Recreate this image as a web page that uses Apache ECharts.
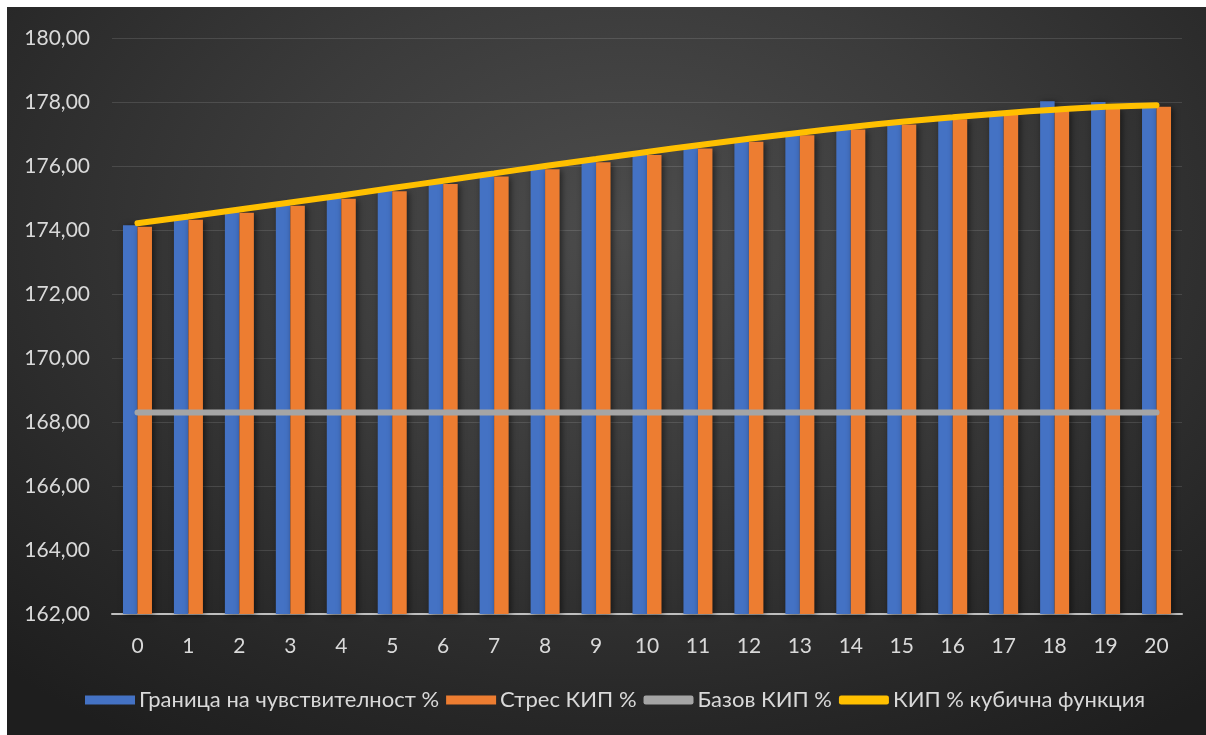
<!DOCTYPE html>
<html>
<head>
<meta charset="utf-8">
<script src="https://cdn.jsdelivr.net/npm/echarts@6/dist/echarts.min.js"></script>
<style>
  html, body { margin: 0; padding: 0; background: #ffffff; }
  #bg { position: absolute; left: 7px; top: 7px; width: 1199px; height: 728px;
        background: radial-gradient(ellipse 75% 85% at 52% 30%, #4c4c4c 0%, #3b3b3b 40%, #272727 80%, #1e1e1e 100%); }
  #chart { position: absolute; left: 0; top: 0; width: 1206px; height: 735px; }
</style>
</head>
<body>
<div id="bg"></div>
<div id="chart"></div>
<script>
const categories = ['0','1','2','3','4','5','6','7','8','9','10','11','12','13','14','15','16','17','18','19','20'];
const sensitivityBound = [174.15, 174.35, 174.57, 174.80, 175.02, 175.25, 175.48, 175.71, 175.94, 176.17, 176.39, 176.60, 176.80, 177.00, 177.18, 177.34, 177.50, 177.63, 178.02, 178.00, 177.88];
const stressKip = [174.10, 174.32, 174.54, 174.76, 174.98, 175.21, 175.44, 175.67, 175.90, 176.12, 176.34, 176.55, 176.76, 176.96, 177.14, 177.30, 177.46, 177.60, 177.72, 177.80, 177.85];
const baseKip = [168.30, 168.30, 168.30, 168.30, 168.30, 168.30, 168.30, 168.30, 168.30, 168.30, 168.30, 168.30, 168.30, 168.30, 168.30, 168.30, 168.30, 168.30, 168.30, 168.30, 168.30];
const cubicKip = [174.21, 174.42, 174.64, 174.86, 175.08, 175.31, 175.54, 175.77, 176.00, 176.22, 176.44, 176.65, 176.85, 177.04, 177.22, 177.38, 177.52, 177.65, 177.76, 177.85, 177.90];
const seriesNames = ['Граница на чувствителност %', 'Стрес КИП %', 'Базов КИП %', 'КИП % кубична функция'];
const yMin = 162, yMax = 180, yStep = 2;

const FONT = 'Lato';
const chart = echarts.init(document.getElementById('chart'), null, { renderer: 'canvas' });
const barShadow = { shadowColor: 'rgba(0,0,0,0.55)', shadowBlur: 6, shadowOffsetX: 2, shadowOffsetY: 1 };
chart.setOption({
  backgroundColor: 'transparent',
  animation: false,
  grid: { left: 112, right: 24, top: 38, bottom: 121 },
  legend: {
    top: 684,
    left: 80,
    itemWidth: 50,
    itemHeight: 9,
    itemGap: 7,
    textStyle: { color: '#d9d9d9', fontSize: 22, fontFamily: FONT, padding: [0, 0, 0, -1] },
    data: [
      { name: seriesNames[0], icon: 'rect' },
      { name: seriesNames[1], icon: 'rect' },
      { name: seriesNames[2], icon: 'roundRect', itemStyle: { color: '#a5a5a5' } },
      { name: seriesNames[3], icon: 'roundRect', itemStyle: { color: '#ffc000' } }
    ]
  },
  xAxis: {
    type: 'category',
    data: categories,
    axisLine: { lineStyle: { color: '#bfbfbf', width: 2 } },
    axisTick: { show: false },
    axisLabel: { color: '#d9d9d9', fontSize: 21, fontFamily: FONT, margin: 22 },
    splitLine: { show: false }
  },
  yAxis: {
    type: 'value',
    min: yMin, max: yMax, interval: yStep,
    axisLine: { show: false },
    axisTick: { show: false },
    axisLabel: {
      color: '#d9d9d9', fontSize: 21, fontFamily: FONT, margin: 22,
      formatter: v => v.toFixed(2).replace('.', ',')
    },
    splitLine: { lineStyle: { color: 'rgba(255,255,255,0.12)', width: 1 } }
  },
  series: [
    { name: seriesNames[0], type: 'bar', data: sensitivityBound, barWidth: 14.5, barGap: '0%',
      itemStyle: Object.assign({ color: '#4472c4' }, barShadow), z: 2 },
    { name: seriesNames[1], type: 'bar', data: stressKip, barWidth: 14.5, barGap: '0%',
      itemStyle: Object.assign({ color: '#ed7d31' }, barShadow), z: 2 },
    { name: seriesNames[2], type: 'line', data: baseKip, showSymbol: false, symbol: 'none',
      lineStyle: { color: '#a5a5a5', width: 6, cap: 'round' }, itemStyle: { color: '#a5a5a5' }, z: 3 },
    { name: seriesNames[3], type: 'line', data: cubicKip, smooth: true, showSymbol: false, symbol: 'none',
      lineStyle: { color: '#ffc000', width: 6, cap: 'round' }, itemStyle: { color: '#ffc000' }, z: 4 }
  ]
});
</script>
</body>
</html>
